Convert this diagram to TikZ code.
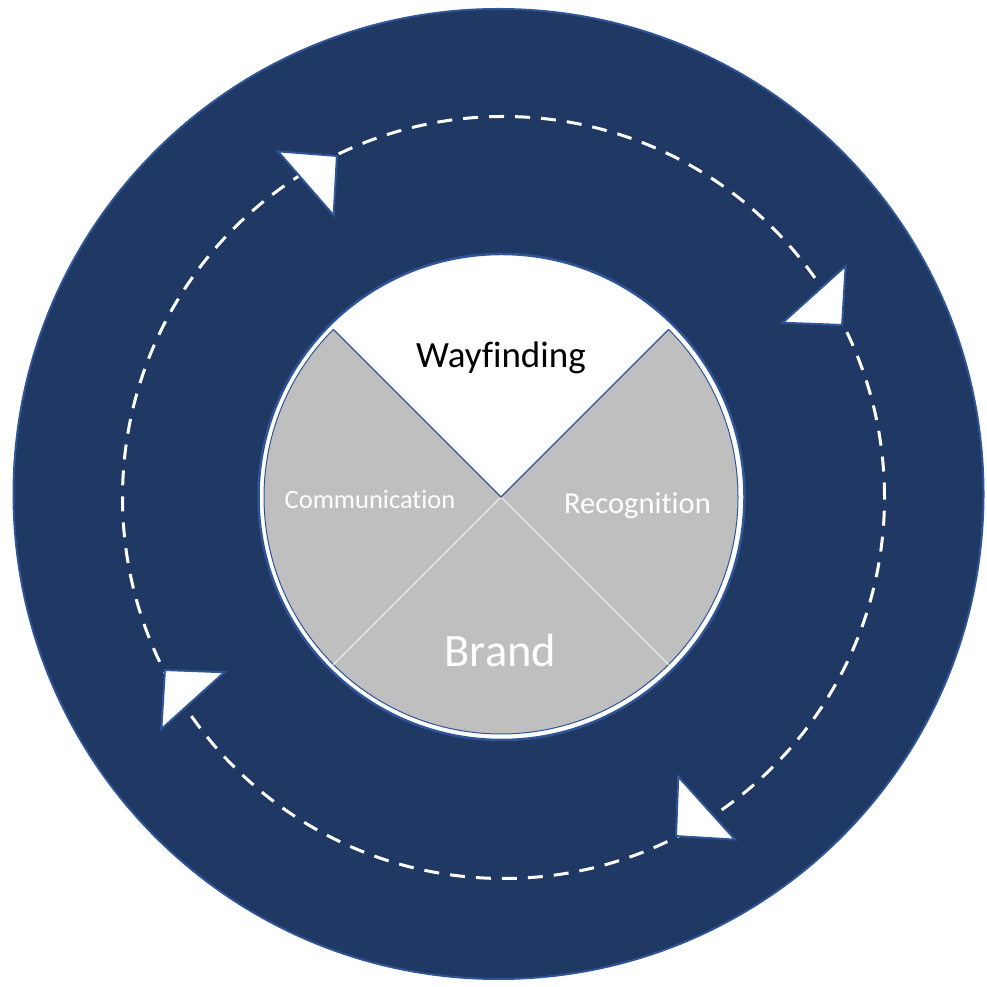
\documentclass[tikz,border=0pt]{standalone}
\usepackage{fontspec}
\setmainfont{Carlito}[Ligatures=NoCommon]
\usetikzlibrary{calc}
\definecolor{navy}{HTML}{203864}
\definecolor{edgeblue}{HTML}{2F5597}
\definecolor{piegray}{HTML}{BFBFBF}
\begin{document}
\begin{tikzpicture}[x=1pt,y=1pt,
  lbl/.style={font=\fontsize{#1}{#1}\selectfont, anchor=base, inner sep=0pt},
  arrowtri/.style={fill=white, draw=edgeblue, line width=2pt, line join=miter},
  ring/.style={draw=white, line width=3pt, dash pattern=on 15pt off 11pt}
]
\useasboundingbox (0,0) rectangle (987,987);
\fill[white] (0,0) rectangle (987,987);
% outer navy disc
\draw[edgeblue, fill=navy, line width=2pt] (498.5,493) circle[radius=485];
% inner white disc
\draw[edgeblue, fill=white, line width=2.5pt] (501.5,490) circle[radius=243];
% pie
\coordinate (pc) at (501,490);
\fill[piegray] (pc) -- ($(pc)+(135:237)$) arc[start angle=135,end angle=405,radius=237] -- cycle;
\draw[edgeblue, line width=1pt] ($(pc)+(135:237)$) arc[start angle=135,end angle=405,radius=237];
\draw[white, line width=1pt] (pc) -- ($(pc)+(225:237)$);
\draw[white, line width=1pt] (pc) -- ($(pc)+(315:237)$);
\draw[edgeblue, line width=1.2pt] ($(pc)+(135:237)$) -- (pc) -- ($(pc)+(45:237)$);
% dashed cycle
\coordinate (dc) at (503.5,489.5);
\draw[ring] (dc) circle[radius=381];
\foreach \a in {116,27,-63,207}
  \draw[arrowtri, shift={(dc)}, rotate=\a] (380,0) -- (410,51) -- (328,29) -- cycle;
% labels
\node[lbl=37] (way) at (501,619) {Wayfinding};
\node[lbl=26.5, text=white] (comm) at (370,478) {Communication};
\node[lbl=30.5, text=white] (recog) at (637.5,473.7) {Recognition};
\node[lbl=46.5, text=white] (brand) at (500.5,320) {Brand};
\end{tikzpicture}
\end{document}
